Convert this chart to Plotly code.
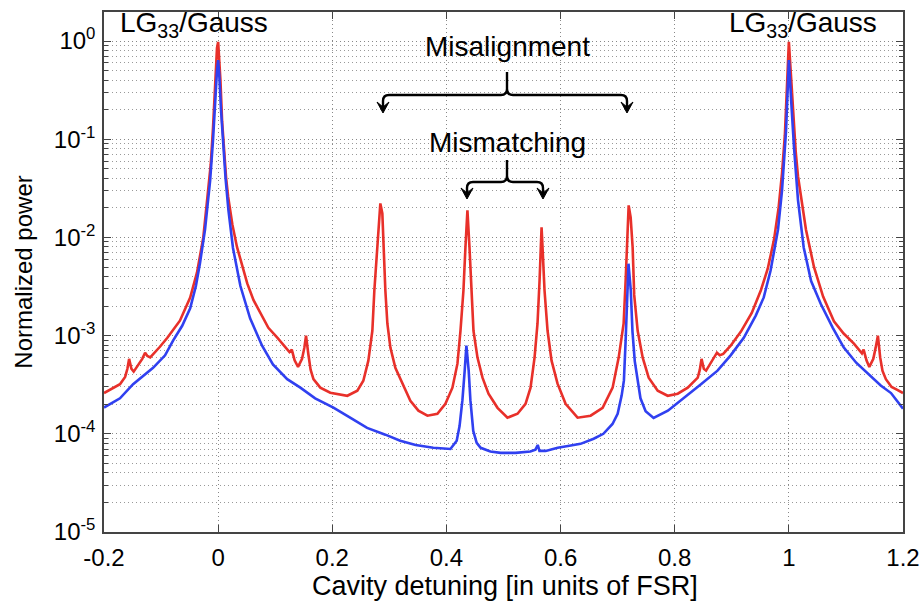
import plotly.graph_objects as go

# ---------------- data ----------------
red_x = [-0.200, -0.186, -0.172, -0.163, -0.159, -0.156, -0.152, -0.148, -0.140, -0.133, -0.128,
         -0.124, -0.119, -0.110, -0.102, -0.089, -0.067, -0.049, -0.037, -0.026, -0.018, -0.013,
         -0.009, -0.005, -0.002, 0.000, 0.004, 0.007, 0.010, 0.014, 0.0175, 0.025, 0.033, 0.039,
         0.051, 0.062, 0.074, 0.088, 0.104, 0.121,
         0.125, 0.129, 0.134, 0.140, 0.147, 0.151, 0.154, 0.158, 0.162, 0.167, 0.179,
         0.1965, 0.2263, 0.2439, 0.2544, 0.2632, 0.2702, 0.2737, 0.2789, 0.2825, 0.2842, 0.2877,
         0.2895, 0.2930, 0.2965, 0.3018, 0.3105, 0.3228, 0.3368, 0.3509, 0.3667, 0.3842, 0.3982,
         0.4105, 0.4193, 0.4246, 0.4298, 0.4333, 0.4368, 0.4404, 0.4439, 0.4474, 0.4544, 0.4632,
         0.4737, 0.4895, 0.5070, 0.5246, 0.5386, 0.5474, 0.5544, 0.5596, 0.5632, 0.5649, 0.5667,
         0.5684, 0.5719, 0.5772, 0.5842, 0.5947, 0.6088, 0.6298, 0.6526, 0.6737, 0.6912, 0.7018,
         0.7105, 0.7140, 0.7175, 0.7193, 0.7228, 0.7263, 0.7290, 0.7351, 0.7439, 0.7544, 0.7702,
         0.7877, 0.8053, 0.8228, 0.8404, 0.844, 0.847, 0.851, 0.855, 0.863, 0.870, 0.874,
         0.879, 0.885, 0.898, 0.916, 0.935, 0.951, 0.963, 0.974, 0.982, 0.988, 0.993, 0.997,
         1.000, 1.004, 1.008, 1.012, 1.016, 1.021, 1.030, 1.044, 1.060, 1.079, 1.096, 1.114, 1.124,
         1.128, 1.131, 1.136, 1.141, 1.148, 1.152, 1.156, 1.160, 1.164, 1.170, 1.180, 1.190, 1.200]
red_y = [2.6e-4, 2.9e-4, 3.2e-4, 3.8e-4, 4.6e-4, 5.8e-4, 4.6e-4, 4.3e-4, 5.0e-4, 5.8e-4, 6.7e-4,
         6.2e-4, 6.0e-4, 6.8e-4, 7.7e-4, 9.5e-4, 1.42e-3, 2.44e-3, 4.4e-3, 0.010, 0.026, 0.055,
         0.13, 0.38, 0.85, 0.98, 0.40, 0.15, 0.075, 0.04, 0.026, 0.0135, 8.0e-3, 6.0e-3,
         3.4e-3, 2.3e-3, 1.68e-3, 1.2e-3, 9.5e-4, 7.4e-4,
         6.8e-4, 7.2e-4, 5.6e-4, 4.8e-4, 5.8e-4, 7.5e-4, 1.0e-3, 6.5e-4, 4.5e-4, 3.6e-4, 2.95e-4,
         2.62e-4, 2.44e-4, 2.75e-4, 3.47e-4, 5.56e-4, 1.12e-3, 2.88e-3, 7.91e-3, 0.0176, 0.0222, 0.0176,
         7.91e-3, 2.88e-3, 1.33e-3, 7.55e-4, 4.71e-4, 3.24e-4, 2.17e-4, 1.72e-4, 1.53e-4, 1.60e-4, 2.02e-4,
         2.95e-4, 5.18e-4, 1.12e-3, 2.88e-3, 7.91e-3, 0.0189, 7.91e-3, 2.88e-3, 1.12e-3, 5.97e-4, 3.73e-4,
         2.56e-4, 1.84e-4, 1.46e-4, 1.60e-4, 2.02e-4, 2.95e-4, 5.97e-4, 1.33e-3, 3.64e-3, 9.31e-3, 0.0127,
         7.91e-3, 2.88e-3, 1.12e-3, 5.56e-4, 3.24e-4, 2.02e-4, 1.46e-4, 1.53e-4, 1.84e-4, 2.95e-4, 5.97e-4,
         1.33e-3, 3.64e-3, 0.0118, 0.0212, 0.016, 7.9e-3, 2.6e-3, 1.12e-3, 5.97e-4, 3.73e-4, 2.75e-4,
         2.44e-4, 2.56e-4, 2.95e-4, 3.73e-4, 4.5e-4, 5.8e-4, 4.6e-4, 4.4e-4, 5.3e-4, 6.2e-4, 6.7e-4,
         6.3e-4, 6.5e-4, 7.9e-4, 1.1e-3, 1.7e-3, 2.9e-3, 4.8e-3, 9.5e-3, 0.02, 0.045, 0.11, 0.35,
         0.98, 0.42, 0.16, 0.075, 0.042, 0.026, 0.012, 5.0e-3, 2.5e-3, 1.4e-3, 1.05e-3, 8.3e-4, 7.0e-4,
         6.6e-4, 7.2e-4, 5.6e-4, 4.8e-4, 5.8e-4, 7.5e-4, 1.0e-3, 6.0e-4, 4.4e-4, 3.6e-4, 3.0e-4, 2.8e-4, 2.6e-4]

blue_x = [-0.200, -0.186, -0.172, -0.149, -0.130, -0.114, -0.093, -0.079, -0.063, -0.049, -0.039,
          -0.032, -0.023, -0.014, -0.009, -0.005, -0.002, 0.000, 0.002, 0.005, 0.009, 0.013, 0.018,
          0.026, 0.039, 0.056, 0.077, 0.096, 0.121, 0.144, 0.170, 0.202, 0.232, 0.261, 0.293, 0.319,
          0.346, 0.377, 0.407, 0.418, 0.423, 0.428, 0.432, 0.435, 0.439, 0.442, 0.447, 0.453, 0.460,
          0.477, 0.495, 0.521, 0.547, 0.556, 0.560, 0.563, 0.574, 0.595, 0.618, 0.635, 0.658, 0.675,
          0.691, 0.700, 0.707, 0.711, 0.714, 0.716, 0.719, 0.723, 0.726, 0.730, 0.735, 0.740,
          0.749, 0.763, 0.788, 0.816, 0.846, 0.875, 0.898, 0.921, 0.942, 0.956, 0.968, 0.981,
          0.988, 0.995, 0.998, 1.000, 1.004, 1.009, 1.016, 1.026, 1.039, 1.056, 1.077, 1.096,
          1.118, 1.139, 1.161, 1.179, 1.200]
blue_y = [1.85e-4, 2.05e-4, 2.3e-4, 3.2e-4, 3.9e-4, 4.7e-4, 6.3e-4, 8.9e-4, 1.26e-3, 1.9e-3, 3.2e-3,
          5.4e-3, 0.012, 0.038, 0.098, 0.27, 0.5, 0.64, 0.45, 0.2, 0.077, 0.04, 0.019,
          7.8e-3, 3.2e-3, 1.5e-3, 7.9e-4, 5.1e-4, 3.6e-4, 2.95e-4, 2.3e-4, 1.85e-4, 1.45e-4, 1.15e-4, 9.8e-5,
          8.5e-5, 7.7e-5, 7.2e-5, 7.0e-5, 8.5e-5, 1.2e-4, 2.2e-4, 4.4e-4, 7.9e-4, 4.4e-4, 2.2e-4, 1.07e-4,
          8.1e-5, 7.2e-5, 6.6e-5, 6.4e-5, 6.4e-5, 6.6e-5, 6.9e-5, 7.7e-5, 6.7e-5, 6.7e-5, 7.2e-5, 7.6e-5,
          7.9e-5, 8.9e-5, 1.0e-4, 1.26e-4, 1.6e-4, 2.45e-4, 3.5e-4, 8.9e-4, 2.3e-3, 5.4e-3, 2.9e-3, 1.1e-3,
          5.5e-4, 3.5e-4, 2.3e-4, 1.7e-4, 1.45e-4, 1.72e-4, 2.3e-4, 3.2e-4, 4.4e-4, 6.3e-4, 9.5e-4, 1.6e-3,
          2.45e-3, 4.6e-3, 0.012, 0.03, 0.12, 0.28, 0.64, 0.25, 0.083, 0.024, 7.9e-3, 3.6e-3, 2.1e-3,
          1.2e-3, 7.6e-4, 5.3e-4, 4.1e-4, 3.1e-4, 2.6e-4, 1.8e-4]

x_ticks = [-0.2, 0, 0.2, 0.4, 0.6, 0.8, 1, 1.2]
x_tick_labels = ["-0.2", "0", "0.2", "0.4", "0.6", "0.8", "1", "1.2"]
y_exponents = [-5, -4, -3, -2, -1, 0]
y_ticks = [10.0 ** e for e in y_exponents]
y_tick_labels = ["10<sup>%d</sup>" % e for e in y_exponents]
y_minor = [m * 10.0 ** e for e in range(-5, 1) for m in range(2, 10)]

# ---------------- layout geometry ----------------
W, H = 923, 607
L, R, T, B = 104, 20, 12, 75
FONT = "Liberation Sans, Arial, Helvetica, sans-serif"


def xp(px):
    return (px - L) / (W - L - R)


def yp(py):
    return (H - B - py) / (H - T - B)


def path(cmds):
    out = []
    for c in cmds:
        if isinstance(c, str):
            out.append(c)
        else:
            out.append("%.5f,%.5f" % (xp(c[0]), yp(c[1])))
    return " ".join(out)


def brace(left, right, center, y_line, y_top, y_tip, r=6):
    return path(["M", (left, y_tip - 4), "L", (left, y_line + r), "Q", (left, y_line), (left + r, y_line),
                 "L", (center - r, y_line), "Q", (center, y_line), (center, y_line - r),
                 "L", (center, y_top),
                 "M", (center, y_line - r), "Q", (center, y_line), (center + r, y_line),
                 "L", (right - r, y_line), "Q", (right, y_line), (right, y_line + r),
                 "L", (right, y_tip - 4)])


def arrowhead(x, tip):
    return path(["M", (x - 6, tip - 11), "L", (x, tip), "L", (x + 6, tip - 11), "L", (x, tip - 6), "Z"])


fig = go.Figure()
fig.add_trace(go.Scatter(x=red_x, y=red_y, mode="lines", line=dict(color="#e8302a", width=2.6),
                         showlegend=False))
fig.add_trace(go.Scatter(x=blue_x, y=blue_y, mode="lines", line=dict(color="#3040f0", width=2.6),
                         showlegend=False))

shapes = []
for (lft, rgt, ctr, yl, yt, ytip) in [(383, 627, 507, 95, 72, 113), (467, 543, 507, 182, 160, 199)]:
    shapes.append(dict(type="path", xref="paper", yref="paper", path=brace(lft, rgt, ctr, yl, yt, ytip),
                       line=dict(color="black", width=2.4)))
    for ax in (lft, rgt):
        shapes.append(dict(type="path", xref="paper", yref="paper", path=arrowhead(ax, ytip),
                           line=dict(color="black", width=1), fillcolor="black"))

ann_font = dict(size=28, color="black", family=FONT)
annotations = [
    dict(text="LG<sub>33</sub>/Gauss", x=xp(194), y=yp(24), xref="paper", yref="paper",
         xanchor="center", yanchor="middle", showarrow=False, font=ann_font),
    dict(text="LG<sub>33</sub>/Gauss", x=xp(803), y=yp(24), xref="paper", yref="paper",
         xanchor="center", yanchor="middle", showarrow=False, font=ann_font),
    dict(text="Misalignment", x=xp(507), y=yp(47), xref="paper", yref="paper",
         xanchor="center", yanchor="middle", showarrow=False, font=ann_font),
    dict(text="Mismatching", x=xp(507), y=yp(142), xref="paper", yref="paper",
         xanchor="center", yanchor="middle", showarrow=False, font=ann_font),
    dict(text="Cavity detuning [in units of FSR]", x=xp(505), y=yp(586), xref="paper", yref="paper",
         xanchor="center", yanchor="middle", showarrow=False, font=dict(size=27, color="black", family=FONT)),
]

grid_dash = "1px,3px"
fig.update_layout(
    width=W, height=H,
    margin=dict(l=L, r=R, t=T, b=B, autoexpand=False),
    paper_bgcolor="white", plot_bgcolor="white",
    font=dict(family=FONT, color="black"),
    shapes=shapes, annotations=annotations,
    xaxis=dict(range=[-0.2, 1.2], tickmode="array", tickvals=x_ticks, ticktext=x_tick_labels,
               ticks="inside", ticklen=7, tickcolor="#444", showline=True, linecolor="#444", linewidth=1.5,
               mirror="allticks", showgrid=True, gridcolor="#888", griddash=grid_dash, gridwidth=1,
               zeroline=False, tickfont=dict(size=24), automargin=False, ticklabelstandoff=3),
    yaxis=dict(type="log", range=[-5, 0.296], tickmode="array", tickvals=y_ticks, ticktext=y_tick_labels,
               ticks="inside", ticklen=7, tickcolor="#444", showline=True, linecolor="#444", linewidth=1.5,
               mirror="allticks", showgrid=True, gridcolor="#888", griddash=grid_dash, gridwidth=1,
               zeroline=False, tickfont=dict(size=24), automargin=False, ticklabelstandoff=2,
               minor=dict(tickmode="array", tickvals=y_minor, ticks="inside", ticklen=4, tickcolor="#444",
                          showgrid=True, gridcolor="#999", griddash=grid_dash, gridwidth=1),
               title=dict(text="Normalized power", font=dict(size=24), standoff=14)),
)

fig.write_html("out.html")
